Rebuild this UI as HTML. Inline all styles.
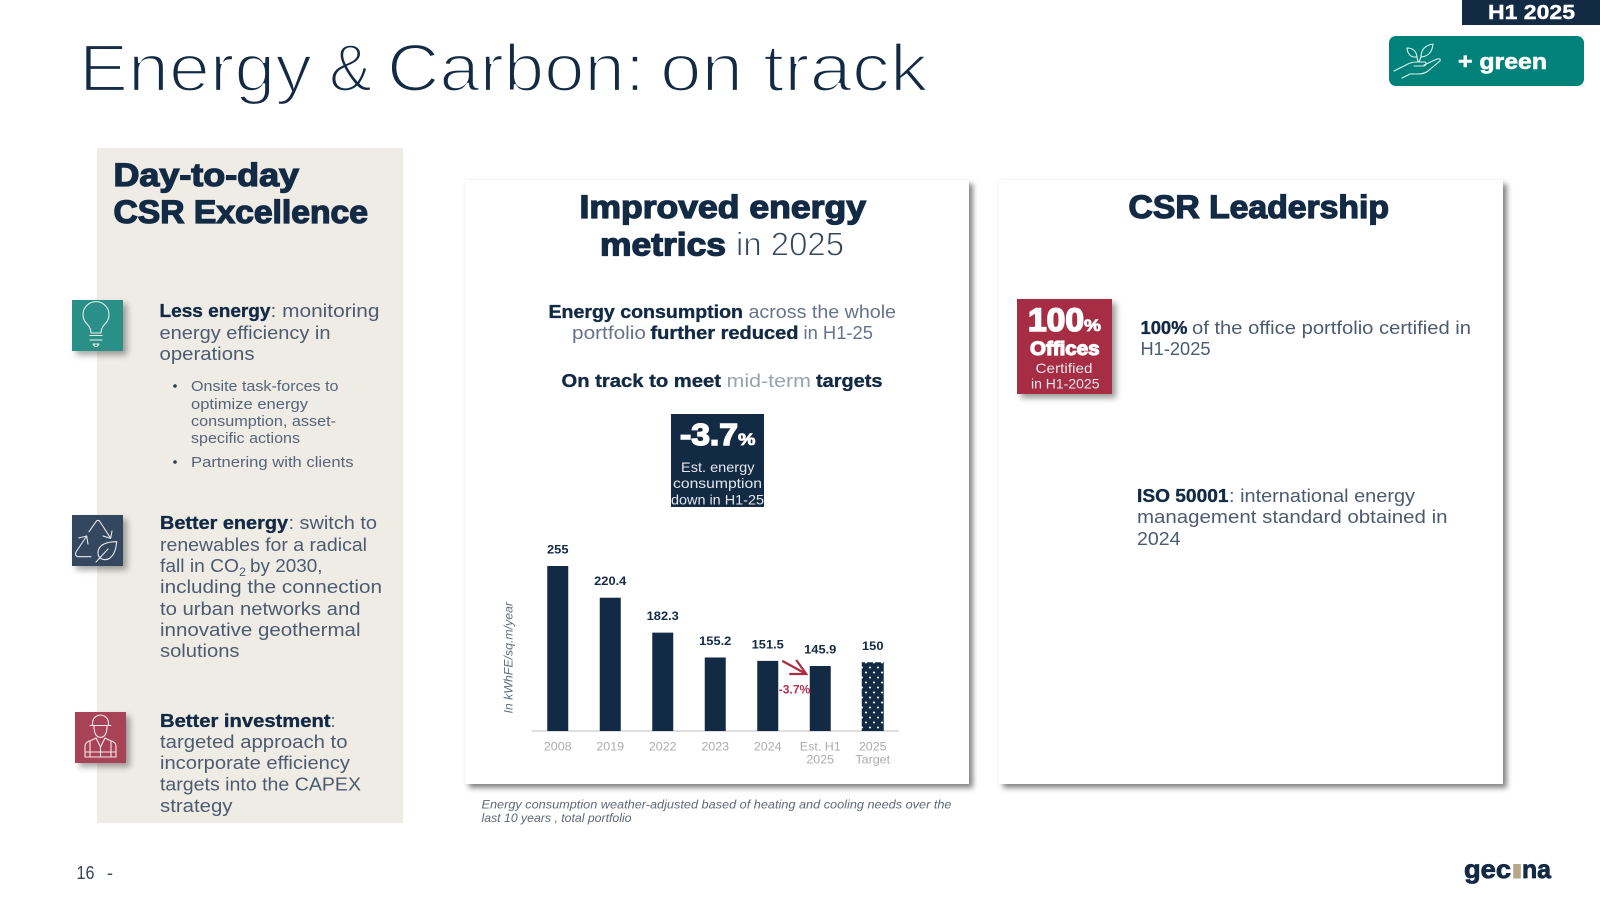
<!DOCTYPE html>
<html lang="en">
<head>
<meta charset="utf-8">
<title>Energy &amp; Carbon: on track</title>
<style>
html,body{margin:0;padding:0;background:#fff;}
#slide{position:relative;width:1600px;height:900px;overflow:hidden;background:#fff;font-family:"Liberation Sans",sans-serif;}
.box{position:absolute;}
svg#art{position:absolute;left:0;top:0;}
text{font-family:"Liberation Sans",sans-serif;}
.t{fill:#132a45;font-size:67px;stroke:#fff;stroke-width:2.3px;}
.n{fill:#4c5b70;font-size:18px;}
.b{fill:#132a45;font-size:18px;font-weight:700;stroke:#132a45;stroke-width:.35px;}
.s{fill:#56647a;font-size:15px;}
.h{fill:#132a45;font-size:32px;font-weight:700;stroke:#132a45;stroke-width:1.3px;}
.w{fill:#fff;font-weight:700;stroke:#fff;}
.l{fill:#e3e6ea;font-size:14px;}
.f{fill:#5d6878;font-size:12px;font-style:italic;}
.ico{fill:none;stroke:#fff;stroke-width:1.1;stroke-linecap:round;stroke-linejoin:round;opacity:.88;}
</style>
</head>
<body>
<div id="slide">
  <div class="box" style="left:97px;top:148px;width:306px;height:675px;background:#efece6;"></div>
  <div class="box" style="left:465px;top:180px;width:504px;height:604px;background:#fff;box-shadow:4px 4px 5px rgba(40,40,40,.55),0 0 3px rgba(0,0,0,.06);"></div>
  <div class="box" style="left:999px;top:180px;width:504px;height:604px;background:#fff;box-shadow:4px 4px 5px rgba(40,40,40,.55),0 0 3px rgba(0,0,0,.06);"></div>
  <div class="box" style="left:72px;top:300px;width:51px;height:51px;background:#2a8f86;box-shadow:4px 4px 6px rgba(0,0,0,.35);"></div>
  <div class="box" style="left:72px;top:515px;width:51px;height:51px;background:#33475f;box-shadow:4px 4px 6px rgba(0,0,0,.35);"></div>
  <div class="box" style="left:75px;top:712px;width:51px;height:51px;background:#a84257;box-shadow:4px 4px 6px rgba(0,0,0,.35);"></div>
  <div class="box" style="left:671px;top:414px;width:93px;height:93px;background:#132a45;"></div>
  <div class="box" style="left:1017px;top:299px;width:95px;height:95px;background:#a72d45;box-shadow:4px 4px 6px rgba(0,0,0,.4);"></div>
  <div class="box" style="left:1462px;top:0;width:138px;height:25px;background:#132a45;"></div>
  <div class="box" style="left:1389px;top:36px;width:195px;height:50px;border-radius:7px;background:#00827a;"></div>

  <svg id="art" width="1600" height="900" viewBox="0 0 1600 900">
    <defs>
      <pattern id="dots" width="8" height="10" patternUnits="userSpaceOnUse">
        <rect width="8" height="10" fill="#132a45"/>
        <circle cx="2" cy="2.5" r="1.05" fill="#fff"/>
        <circle cx="6" cy="7.5" r="1.05" fill="#fff"/>
      </pattern>
    </defs>

    <text class="t" x="79" y="91" textLength="233">Energy</text>
    <text class="t" x="329" y="91" textLength="43">&amp;</text>
    <text class="t" x="387" y="91" textLength="258">Carbon:</text>
    <text class="t" x="660" y="91" textLength="83">on</text>
    <text class="t" x="763" y="91" textLength="165">track</text>
    <text class="w" x="1488" y="19" textLength="87" font-size="20" stroke-width=".4">H1 2025</text>
    <text class="w" x="1458" y="69" textLength="89" font-size="22" stroke-width=".6">+ green</text>
    <g class="ico">
      <path d="M1394 71 L1406 65 Q1411 62 1416 62 L1425 62 Q1428 64 1424 66 L1414 66"/>
      <path d="M1424 65 L1437 59 Q1441 58 1440 61 L1428 71 Q1424 74 1418 74 L1410 74 L1402 78"/>
      <path d="M1407 48 Q1416 48 1417 57 Q1408 58 1407 48 Z"/>
      <path d="M1433 44 Q1421 46 1421 57 Q1432 56 1433 44 Z"/>
      <path d="M1417 57 L1418 62 M1421 57 L1419 62"/>
    </g>

    <!-- left panel -->
    <text class="h" x="113.500" y="186" textLength="185.500">Day-to-day</text>
    <text class="h" x="113.500" y="223" textLength="254.500">CSR Excellence</text>

    <g class="ico">
      <path d="M91 333 Q91 328 87 324 A13 13 0 1 1 105 324 Q101 328 101 333 Z"/>
      <path d="M90 335.500 H102 M90 340 H102"/>
      <path d="M93 344 H99 L97 346.500 H95 Z"/>
    </g>
    <g class="ico">
      <path d="M89 531.700 L96.700 520.700 Q98 520 99.500 521 L110.700 538.300 M110.700 538.300 L103 536 M110.700 538.300 L112 531"/>
      <path d="M91 556.700 L78 556.700 Q74.500 556 76 552 L86.700 536 M86.700 536 L78.700 538 M86.700 536 L88 544"/>
      <path d="M116.700 541.700 C108 541.700 98 544 98 553 C98 560 106 561 110 558 C115 554 116 548 116.700 541.700 Z M96 562 L108 549"/>
    </g>
    <g class="ico">
      <path d="M90 725.500 H111 M92.500 725 Q92 716 100.500 715 Q109 716 108.500 725"/>
      <path d="M94 726 Q94 737 100.500 737.500 Q107 737 107 726"/>
      <path d="M85 757 V746 Q85 742 92 740 L96 738 L100.500 747 L105 738 L109 740 Q116 742 116 746 V757 Z"/>
      <path d="M90 741 V757 M111 741 V757 M100.500 747 V757 M85 752 H116"/>
    </g>

    <text class="b" x="159.500" y="317" textLength="111">Less energy</text>
    <text class="n" x="270.500" y="317" textLength="109">: monitoring</text>
    <text class="n" x="159.500" y="339" textLength="171">energy efficiency in</text>
    <text class="n" x="159.500" y="360" textLength="95">operations</text>
    <circle cx="175" cy="386" r="1.800" fill="#2d3d52"/>
    <text class="s" x="191" y="391" textLength="147.500">Onsite task-forces to</text>
    <text class="s" x="191" y="409" textLength="117">optimize energy</text>
    <text class="s" x="191" y="426" textLength="145">consumption, asset-</text>
    <text class="s" x="191" y="443" textLength="109">specific actions</text>
    <circle cx="175" cy="462" r="1.800" fill="#2d3d52"/>
    <text class="s" x="191" y="467" textLength="162.500">Partnering with clients</text>

    <text class="b" x="160" y="529" textLength="128">Better energy</text>
    <text class="n" x="288.500" y="529" textLength="88.500">: switch to</text>
    <text class="n" x="160" y="551" textLength="207">renewables for a radical</text>
    <text class="n" x="160" y="572" textLength="79">fall in CO</text>
    <text class="n" x="239" y="576" textLength="7" style="font-size:12px">2</text>
    <text class="n" x="250" y="572" textLength="72.500">by 2030,</text>
    <text class="n" x="160" y="593" textLength="222">including the connection</text>
    <text class="n" x="160" y="615" textLength="200.500">to urban networks and</text>
    <text class="n" x="160" y="636" textLength="200.500">innovative geothermal</text>
    <text class="n" x="160" y="657" textLength="79.500">solutions</text>

    <text class="b" x="160" y="727" textLength="170.500">Better investment</text>
    <text class="n" x="330.500" y="727">:</text>
    <text class="n" x="160" y="748" textLength="187.500">targeted approach to</text>
    <text class="n" x="160" y="769" textLength="190">incorporate efficiency</text>
    <text class="n" x="160" y="790.500" textLength="201">targets into the CAPEX</text>
    <text class="n" x="160" y="812" textLength="72.500">strategy</text>

    <!-- energy card -->
    <text class="h" x="579.500" y="218" textLength="286.500">Improved energy</text>
    <text class="h" x="600" y="255.500" textLength="126">metrics</text>
    <text x="736" y="255.500" textLength="108" font-size="33" fill="#33475f" stroke="#fff" stroke-width=".9">in 2025</text>

    <text class="b" x="548.500" y="318" textLength="194.500">Energy consumption</text>
    <text class="n" x="748.500" y="318" textLength="147.500" style="fill:#66738a">across the whole</text>
    <text class="n" x="572" y="339" textLength="74" style="fill:#66738a">portfolio</text>
    <text class="b" x="650.500" y="339" textLength="148">further reduced</text>
    <text class="n" x="803.500" y="339" textLength="69.500" style="fill:#66738a">in H1-25</text>
    <text class="b" x="561.500" y="387" textLength="159.500">On track to meet</text>
    <text class="n" x="726.500" y="387" textLength="84.500" style="fill:#98a2b0">mid-term</text>
    <text class="b" x="816" y="387" textLength="66.500">targets</text>

    <text class="w" x="680" y="445" textLength="58" font-size="31" stroke-width="1.500">-3.7</text>
    <text class="w" x="738" y="445" textLength="17.500" font-size="17" stroke-width=".8">%</text>
    <text class="l" x="681" y="472" textLength="73.500">Est. energy</text>
    <text class="l" x="673" y="488" textLength="89">consumption</text>
    <text class="l" x="671" y="504.500" textLength="93">down in H1-25</text>

    <g id="chart"></g>

    <text class="f" x="481.500" y="808.500" textLength="470">Energy consumption weather-adjusted based of heating and cooling needs over the</text>
    <text class="f" x="481.500" y="822" textLength="150">last 10 years , total portfolio</text>

    <!-- leadership card -->
    <text class="h" x="1128.500" y="218" textLength="260.500">CSR Leadership</text>
    <text class="w" x="1028" y="331" textLength="56" font-size="32" stroke-width="1.600">100</text>
    <text class="w" x="1084" y="331" textLength="17" font-size="17" stroke-width=".8">%</text>
    <text class="w" x="1030" y="355" textLength="69.500" font-size="19" stroke-width="1.200">Offices</text>
    <text class="l" x="1035.500" y="373" textLength="57">Certified</text>
    <text class="l" x="1031" y="388.500" textLength="68.500">in H1-2025</text>

    <text class="b" x="1140.500" y="334" textLength="47">100%</text>
    <text class="n" x="1192" y="334" textLength="279">of the office portfolio certified in</text>
    <text class="n" x="1140.500" y="355" textLength="70">H1-2025</text>
    <text class="b" x="1137" y="502" textLength="91.500">ISO 50001</text>
    <text class="n" x="1229" y="502" textLength="186">: international energy</text>
    <text class="n" x="1137" y="523" textLength="310.500">management standard obtained in</text>
    <text class="n" x="1137" y="545" textLength="43.500">2024</text>

    <!-- footer -->
    <text x="76.500" y="879" textLength="18" font-size="18" fill="#33475f">16</text>
    <text x="107" y="879" font-size="18" fill="#33475f">-</text>
    <text x="1464" y="878" textLength="47" font-size="26" font-weight="700" fill="#132a45" stroke="#132a45" stroke-width=".8">gec</text>
    <text x="1511" y="878" textLength="12" font-size="26" font-weight="700" fill="#b7a888" stroke="#b7a888" stroke-width="1">ı</text>
    <text x="1522" y="878" textLength="29" font-size="26" font-weight="700" fill="#132a45" stroke="#132a45" stroke-width=".8">na</text>
  </svg>
</div>

<script>
const categories = ['2008', '2019', '2022', '2023', '2024', 'Est. H1\n2025', '2025\nTarget'];
const energyValues = [255, 220.4, 182.3, 155.2, 151.5, 145.9, 150];
const valueLabels = ['255', '220.4', '182.3', '155.2', '151.5', '145.9', '150'];
const targetFlags = [false, false, false, false, false, false, true];
const axisTitle = 'In kWhFE/sq.m/year';
const changeLabel = '-3.7%';
const axisMin = 75;
const axisMax = 255;

const plotLeft = 531.5, plotRight = 899, plotBase = 731, plotTop = 566;
const NS = 'http://www.w3.org/2000/svg';
const chart = document.getElementById('chart');

function xBand(i) { return plotLeft + i * (plotRight - plotLeft) / categories.length; }
function xMid(i) { return (xBand(i) + xBand(i + 1)) / 2; }
function yScale(v) { return plotBase - (v - axisMin) * (plotBase - plotTop) / (axisMax - axisMin); }

function mk(tag, attrs, parent) {
  const el = document.createElementNS(NS, tag);
  for (const k in attrs) el.setAttribute(k, attrs[k]);
  (parent || chart).appendChild(el);
  return el;
}
function stretch(el, factor) {
  const len = el.getComputedTextLength();
  el.setAttribute('textLength', (len * factor).toFixed(1));
  el.setAttribute('lengthAdjust', 'spacingAndGlyphs');
}

const baseline = mk('line', { x1: plotLeft, x2: plotRight, y1: plotBase, y2: plotBase, stroke: '#d4d4d4', 'stroke-width': 1.5 });



const barW = 21;
energyValues.forEach(function (v, i) {
  const top = yScale(v);
  const w = targetFlags[i] ? barW + 1 : barW;
  const bar = mk('rect', { x: xMid(i) - w / 2, y: top, width: w, height: plotBase - top, fill: targetFlags[i] ? 'url(#dots)' : '#132a45' });
  
  

  const label = mk('text', { x: xMid(i), y: top - 12.5, 'text-anchor': 'middle', 'font-size': 11.5, 'font-weight': 700, fill: '#132a45' });
  label.textContent = valueLabels[i];
  
  
  stretch(label, 1.12);

  categories[i].split('\n').forEach(function (line, j) {
    const tick = mk('text', { x: xMid(i), y: 750.5 + j * 13, 'text-anchor': 'middle', 'font-size': 12, fill: '#acacac' });
    tick.textContent = line;
    
    
    stretch(tick, 1.04);
  });
});

const yTitle = mk('text', { transform: 'translate(512.500,713.500) rotate(-90)', 'font-size': 11.5, 'font-style': 'italic', fill: '#66707e' });
yTitle.textContent = axisTitle;


stretch(yTitle, 1.07);

const fromIdx = 4, toIdx = 5;
const tipX = xMid(toIdx) - barW / 2 - 3.5;
const tipY = yScale(energyValues[toIdx]) + 8;
const startX = xMid(fromIdx) + barW / 2 + 4;
const startY = yScale(energyValues[fromIdx]);
const arrow = mk('path', {
  d: 'M' + startX + ' ' + startY + ' L' + tipX + ' ' + tipY + ' M' + (tipX - 10) + ' ' + (tipY - 14) + ' L' + tipX + ' ' + tipY + ' L' + (tipX - 17) + ' ' + tipY,
  fill: 'none', stroke: '#a72d45', 'stroke-width': 2.2
});



const change = mk('text', { x: (xMid(fromIdx) + xMid(toIdx)) / 2 + 0.5, y: 693.5, 'text-anchor': 'middle', 'font-size': 11.5, 'font-weight': 700, fill: '#b5304b' });
change.textContent = changeLabel;


stretch(change, 1.05);

document.querySelectorAll('text[textLength]').forEach(function (t) {
  t.setAttribute('lengthAdjust', 'spacingAndGlyphs');
});
</script>
</body>
</html>
